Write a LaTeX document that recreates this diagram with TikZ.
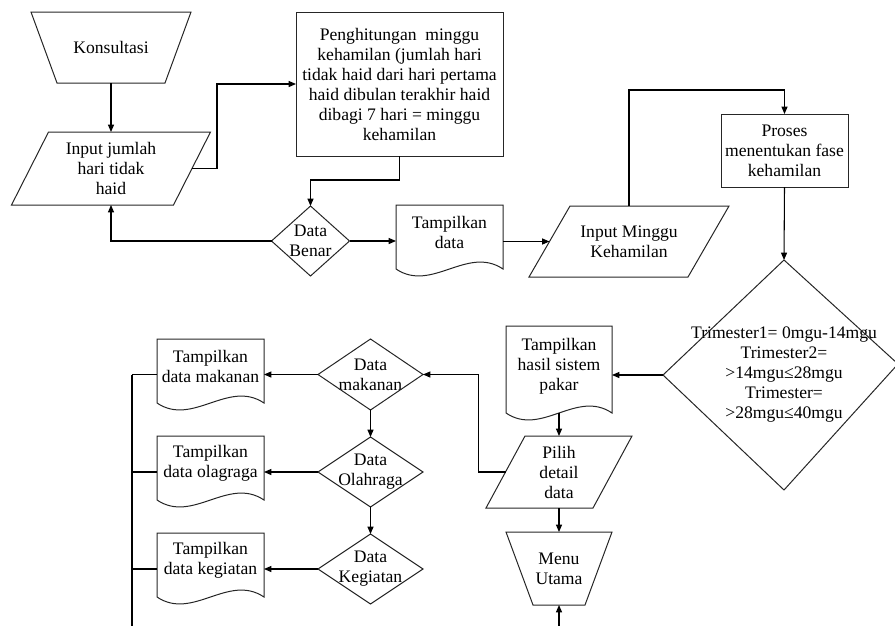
\documentclass[tikz,border=0pt]{standalone}
\usepackage{fontspec}
\setmainfont{Liberation Serif}
\usetikzlibrary{calc,arrows.meta}
\tikzset{
  shp/.style={draw=black!85, line width=0.75pt},
  hold/.style={rectangle, draw=none, inner sep=0pt, outer sep=0pt, align=center, font=\fontsize{13.2}{15}\selectfont},
  txt/.style={inner sep=0pt, align=center, font=\fontsize{13.2}{15}\selectfont},
  sz/.style 2 args={minimum width=#1*0.75pt, minimum height=#2*0.75pt},
  conn/.style={line width=0.8pt, draw=black},
  arr/.style={conn, -{Triangle[length=5.5pt,width=4.5pt]}},
}
\newcommand\fcProc[1]{\draw[shp] (#1.north west) rectangle (#1.south east);}
\newcommand\fcDec[1]{\draw[shp] (#1.north) -- (#1.east) -- (#1.south) -- (#1.west) -- cycle;}
\newcommand\fcIO[2]{\draw[shp] ($(#1.north west)+(#2,0)$) -- (#1.north east) -- ($(#1.south east)-(#2,0)$) -- (#1.south west) -- cycle;
  \coordinate (#1-l) at ($(#1.west)+(#2/2,0)$); \coordinate (#1-r) at ($(#1.east)-(#2/2,0)$);}
\newcommand\fcMan[2]{\draw[shp] (#1.north west) -- (#1.north east) -- ($(#1.south east)-(#2,0)$) -- ($(#1.south west)+(#2,0)$) -- cycle;}
\newcommand\fcDoc[1]{\draw[shp] (#1.south west) .. controls ($(#1.south west)!0.3333!(#1.south east)+(0,24)$) and ($(#1.south west)!0.6667!(#1.south east)+(0,-24)$) .. (#1.south east) -- (#1.north east) -- (#1.north west) -- cycle;}
\begin{document}
\begin{tikzpicture}[x=0.75pt,y=-0.75pt]
\useasboundingbox (0,0) rectangle (895,625);
\clip (0,0) rectangle (895,625);
% nodes
\node[hold, sz={160}{71}] (kons) at (111,47.5) {Konsultasi};
\node[hold, sz={199}{73}] (inp1) at (111,168.5) {Input jumlah\\hari tidak\\haid};
\node[hold, sz={207}{144}] (hitung) at (399.5,84) {Penghitungan\ \ minggu\\kehamilan (jumlah hari\\tidak haid dari hari pertama\\haid dibulan terakhir haid\\dibagi 7 hari = minggu\\kehamilan};
\node[hold, sz={78}{70}] (benar) at (310.5,241) {Data\\Benar};
\node[hold, sz={107}{64}] (tdata) at (449.5,237) {};
\node[txt] (tdataT) at (449.5,232) {Tampilkan\\data};
\node[hold, sz={200}{71}] (inp2) at (629,241.5) {Input Minggu\\Kehamilan};
\node[hold, sz={127}{73}] (proses) at (784.5,150.5) {Proses\\menentukan fase\\kehamilan};
\node[hold, sz={242}{230}] (trim) at (784,375) {Trimester1= 0mgu-14mgu\\Trimester2=\\>14mgu≤28mgu\\Trimester=\\>28mgu≤40mgu};
\coordinate (trimE) at (898,364);
\node[hold, sz={106}{87}] (hasil) at (559,369.5) {};
\node[txt] (hasilT) at (559,366.5) {Tampilkan\\hasil sistem\\pakar};
\node[hold, sz={146}{72}] (pilih) at (559,472) {Pilih\\detail\\data};
\node[hold, sz={106}{73}] (menu) at (559,568.5) {Menu\\Utama};
\node[hold, sz={105}{71}] (dmak) at (370.5,374.5) {Data\\makanan};
\node[hold, sz={105}{70}] (dolah) at (370.5,472) {Data\\Olahraga};
\node[hold, sz={105}{70}] (dkeg) at (370.5,569) {Data\\Kegiatan};
\node[hold, sz={107}{64}] (tmak) at (210.5,371) {};
\node[txt] (tmakT) at (210.5,366) {Tampilkan\\data makanan};
\node[hold, sz={107}{64}] (tolah) at (210.5,468) {};
\node[txt] (tolahT) at (210.5,463) {Tampilkan\\data olagraga};
\node[hold, sz={107}{64}] (tkeg) at (210.5,565) {};
\node[txt] (tkegT) at (210.5,560) {Tampilkan\\data kegiatan};
% shapes
\fcMan{kons}{26}
\fcIO{inp1}{37}
\fcProc{hitung}
\fcDec{benar}
\fcDoc{tdata}
\fcIO{inp2}{41}
\fcProc{proses}
\draw[shp] (trim.north) -- (trimE) -- (trim.south) -- (trim.west) -- cycle;
\fcDoc{hasil}
\fcIO{pilih}{39}
\fcMan{menu}{27}
\fcDec{dmak}
\fcDec{dolah}
\fcDec{dkeg}
\fcDoc{tmak}
\fcDoc{tolah}
\fcDoc{tkeg}
% connectors
\draw[arr] (kons.south) -- (inp1.north);
\draw[arr] (inp1-r) -- ++(25,0) |- (hitung.west);
\draw[arr] (hitung.south) -- ++(0,24) -| (benar.north);
\draw[arr] (benar.west) -| (inp1.south);
\draw[arr] (benar.east) -- (benar.east -| tdata.west);
\draw[arr] (tdata.east |- inp2-l) -- (inp2-l);
\draw[arr] (inp2.north) -- ++(0,-116) -| (proses.north);
\draw[arr] (proses.south) -- (trim.north);
\draw[arr] (trim.west) -- (trim.west -| hasil.east);
\draw[arr] (hasil.south) -- (pilih.north);
\draw[arr] (pilih-l) -- ++(-27,0) |- (dmak.east);
\draw[arr] (pilih.south) -- (menu.north);
\coordinate (menuIn) at (559,632);
\draw[arr] (menuIn) -- (menu.south);
\draw[arr] (dmak.south) -- (dolah.north);
\draw[arr] (dolah.south) -- (dkeg.north);
\draw[arr] (dmak.west) -- (dmak.west -| tmak.east);
\draw[arr] (dolah.west) -- (dolah.west -| tolah.east);
\draw[arr] (dkeg.west) -- (dkeg.west -| tkeg.east);
\coordinate (busTop) at (132,374.5);
\coordinate (busBot) at (132,632);
\draw[conn] (busTop) -- (busBot);
\draw[conn] (tmak.west |- dmak.west) -- (busTop);
\draw[conn] (tolah.west |- dolah.west) -- (busTop |- dolah.west);
\draw[conn] (tkeg.west |- dkeg.west) -- (busTop |- dkeg.west);
\end{tikzpicture}
\end{document}
